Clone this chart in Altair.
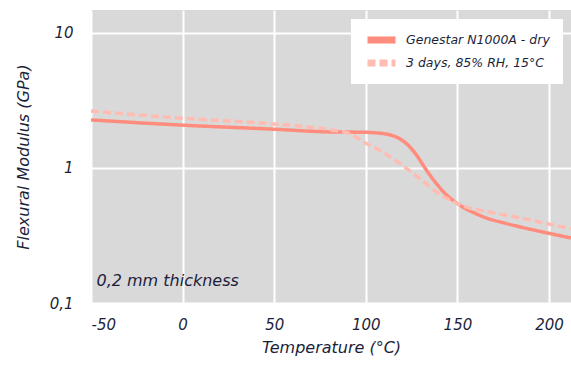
import altair as alt
import pandas as pd

dry_x = [-50, -1, 49, 80.5, 98.6, 107.7, 113.2, 118.7, 124.1, 127.8, 132.3, 137.8, 143.2, 148.6, 154.1, 159.6, 165, 176, 182.4, 196.9, 212]
dry_y = [2.27, 2.08, 1.94, 1.85, 1.84, 1.81, 1.76, 1.64, 1.43, 1.24, 1.0, 0.789, 0.648, 0.563, 0.503, 0.462, 0.43, 0.39, 0.371, 0.335, 0.303]
wet_x = [-50, -1, 49, 80.5, 91.4, 100.5, 107.7, 118.7, 125.5, 132.3, 139.6, 146.9, 154.1, 165, 176, 182.4, 196.9, 212]
wet_y = [2.64, 2.34, 2.12, 1.92, 1.79, 1.51, 1.35, 1.075, 0.92, 0.775, 0.648, 0.572, 0.517, 0.478, 0.448, 0.432, 0.392, 0.356]
series = ["Genestar N1000A - dry", "3 days, 85% RH, 15°C"]

rows = [{"T": x, "E": y, "s": series[0]} for x, y in zip(dry_x, dry_y)] + \
       [{"T": x, "E": y, "s": series[1]} for x, y in zip(wet_x, wet_y)]
df = pd.DataFrame(rows)

FONT = "DejaVu Sans"
TXT = "#1c1f3a"

x_scale = alt.Scale(domain=[-50, 212], nice=False, zero=False)
y_scale = alt.Scale(type="log", domain=[0.1, 14.8], nice=False)

def make_legend():
    return alt.Legend(title=None, orient="none", legendX=260, legendY=9,
                      fillColor="white", padding=13, symbolType="stroke",
                      symbolStrokeWidth=7, symbolSize=784, clipHeight=16,
                      labelFontSize=12.5, labelFont=FONT, labelFontStyle="italic",
                      labelColor=TXT, rowPadding=7, labelOffset=7)

lines = alt.Chart(df).mark_line(strokeWidth=3.5, interpolate="monotone", clip=True).encode(
    x=alt.X("T:Q", scale=x_scale,
            axis=alt.Axis(title="Temperature (°C)", values=[-50, 0, 50, 100, 150, 200],
                          labelPadding=14, titlePadding=7,
                          labelExpr="replace(replace(datum.label, '−', '-'), '.', ',')")),
    y=alt.Y("E:Q", scale=y_scale,
            axis=alt.Axis(title="Flexural Modulus (GPa)", values=[0.1, 1, 10],
                          labelExpr="replace(datum.value + '', '.', ',')",
                          labelPadding=18, titlePadding=18)),
    color=alt.Color("s:N", scale=alt.Scale(domain=series, range=["#FF8C7C", "#FFBCB2"]),
                    legend=make_legend()),
    strokeDash=alt.StrokeDash("s:N", scale=alt.Scale(domain=series, range=[[1, 0], [8, 4]]),
                              legend=make_legend()),
)

note = alt.Chart(pd.DataFrame({"T": [-47], "E": [0.146], "t": ["0,2 mm thickness"]})).mark_text(
    align="left", baseline="middle", fontSize=16, font=FONT, fontStyle="italic", color=TXT
).encode(x=alt.X("T:Q", scale=x_scale), y=alt.Y("E:Q", scale=y_scale), text="t:N")

chart = alt.layer(lines, note).properties(
    width=480, height=293,
    autosize=alt.AutoSizeParams(type="none"),
    padding={"left": 91, "top": 10, "right": 0, "bottom": 67},
    background="white",
).configure_view(fill="#D9D9D9", stroke=None).configure_axis(
    gridColor="white", gridWidth=2, domain=False, ticks=False,
    labelFont=FONT, labelFontStyle="italic", labelFontSize=15, labelColor=TXT,
    titleFont=FONT, titleFontStyle="italic", titleFontSize=16, titleFontWeight="normal", titleColor=TXT,
)

chart.save("out.html", embed_options={"renderer": "svg", "actions": False})
